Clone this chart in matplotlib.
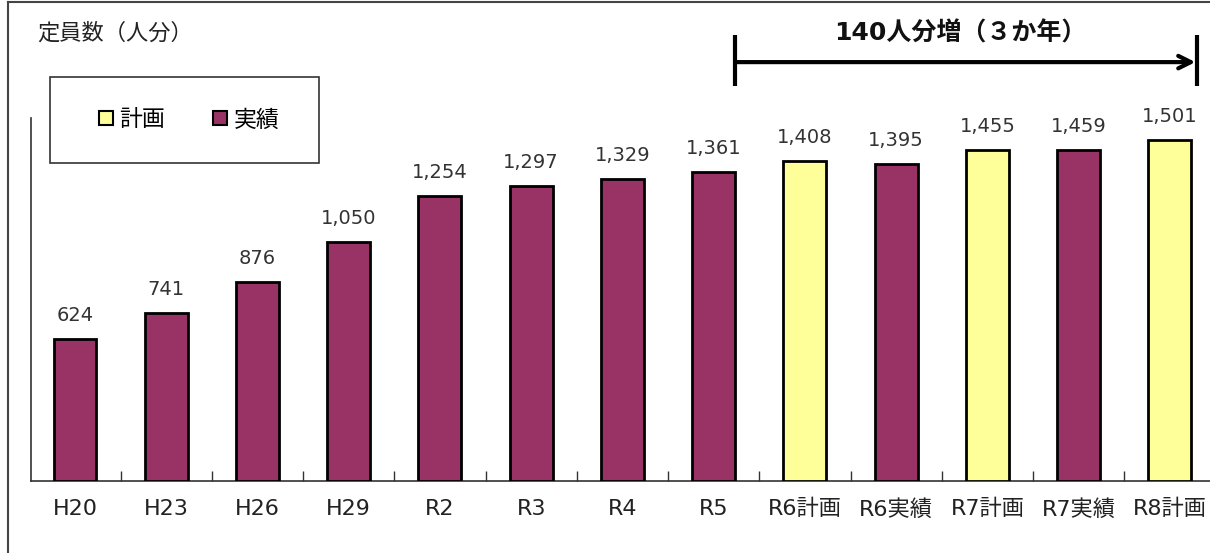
import numpy as np
import matplotlib
matplotlib.use("Agg")
import matplotlib.pyplot as plt
from matplotlib.lines import Line2D
from matplotlib.patches import Rectangle

plt.rcParams['font.family'] = ['DejaVu Sans', 'Noto Sans CJK JP']

# 定員数の推移
categories = ['H20', 'H23', 'H26', 'H29', 'R2', 'R3', 'R4', 'R5',
              'R6計画', 'R6実績', 'R7計画', 'R7実績', 'R8計画']
values = [624, 741, 876, 1050, 1254, 1297, 1329, 1361,
          1408, 1395, 1455, 1459, 1501]
kinds = ['実績'] * 8 + ['計画', '実績', '計画', '実績', '計画']

colors = {'計画': '#FFFF99', '実績': '#993366'}
jp = ['Noto Sans CJK JP', 'DejaVu Sans']

fig = plt.figure(figsize=(12.1, 5.53), dpi=100)
ax = fig.add_axes([31 / 1210, 72 / 553, 1179 / 1210, 363 / 553])

x = np.arange(len(categories))
bars = ax.bar(x, values, width=0.47, color=[colors[k] for k in kinds],
              edgecolor='black', linewidth=2, zorder=3)

for xi, v in zip(x, values):
    ax.annotate(f'{v:,}', (xi, v), xytext=(0, 13), textcoords='offset points',
                ha='center', va='baseline', fontsize=14, color='#333333')

ax.set_xlim(-0.482, 12.44)
ax.set_ylim(0, 1598)

for s in ['top', 'right']:
    ax.spines[s].set_visible(False)
for s in ['left', 'bottom']:
    ax.spines[s].set_color('#333333')
    ax.spines[s].set_linewidth(1.2)

ax.set_yticks([])
ax.set_xticks(x)
ax.set_xticklabels(categories, fontsize=16, color='#222222')
ax.tick_params(axis='x', which='major', length=0, pad=13)
ax.set_xticks(x[:-1] + 0.5, minor=True)
ax.tick_params(axis='x', which='minor', direction='in', length=7,
               width=1, color='#333333')

# 矢印（140人分増）
y_arrow = 1844
x0, x1 = 7.236, 12.3
ax.annotate('', xy=(x1 - 0.02, y_arrow), xytext=(x0, y_arrow),
            arrowprops=dict(arrowstyle='->,head_length=0.9,head_width=0.45',
                            lw=3, color='black', shrinkA=0, shrinkB=0),
            annotation_clip=False)
for xe in (x0, x1):
    ax.plot([xe, xe], [1738, 1963], color='black', lw=3, clip_on=False,
            solid_capstyle='butt')
ax.text(9.7, 1970, '140人分増（３か年）', ha='center', va='center',
        fontsize=18, fontweight='bold', color='#111111')

# タイトル
fig.text(37 / 1210, 1 - 33 / 553, '定員数（人分）', ha='left', va='center',
         fontsize=16, color='#222222', family=jp)

# 凡例
fig.patches.append(Rectangle((50 / 1210, 1 - 163 / 553), 269 / 1210, 86 / 553,
                             transform=fig.transFigure, fill=False,
                             edgecolor='#333333', lw=1.2))
handles = [Line2D([], [], ls='none', marker='s', markersize=10,
                  markerfacecolor=colors[k], markeredgecolor='black',
                  markeredgewidth=1.5) for k in ['計画', '実績']]
fig.legend(handles, ['計画', '実績'], loc='center',
           bbox_to_anchor=(188 / 1210, 1 - 120 / 553), ncol=2, frameon=False,
           prop={'family': jp, 'size': 16.5}, handlelength=0.8,
           handletextpad=0.2, columnspacing=2.0)

# 外枠
fig.add_artist(Line2D([8 / 1210, 8 / 1210], [0, 1 - 2 / 553],
                      transform=fig.transFigure, color='#444444', lw=1.5))
fig.add_artist(Line2D([8 / 1210, 1], [1 - 2 / 553, 1 - 2 / 553],
                      transform=fig.transFigure, color='#444444', lw=1.5))

fig.savefig('out.png', dpi=100)
